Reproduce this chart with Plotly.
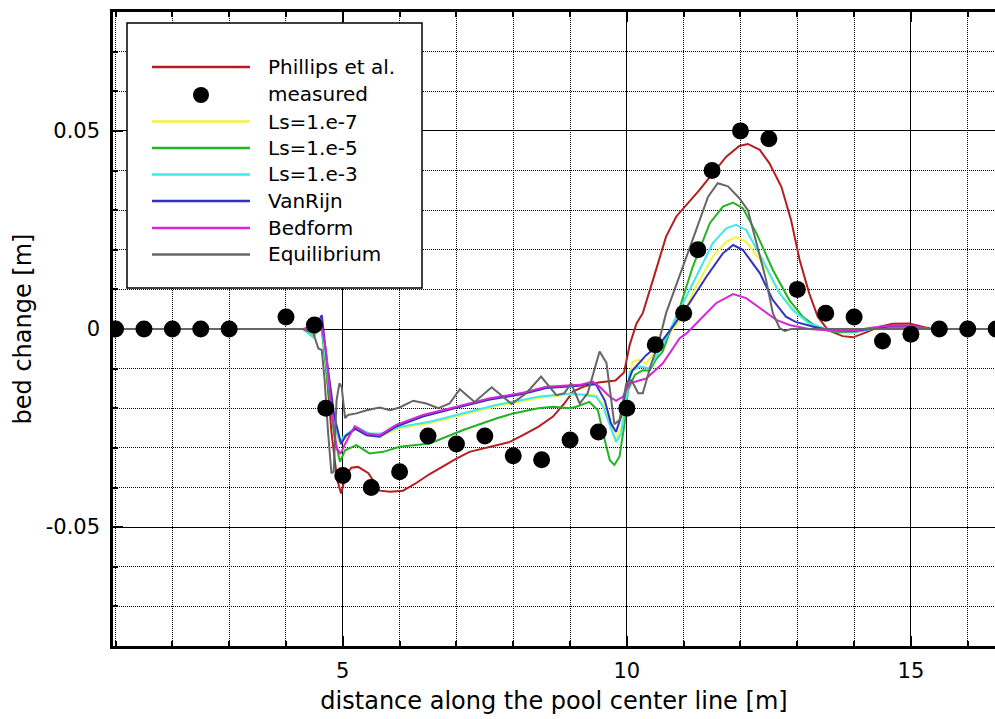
import plotly.graph_objects as go

# ---- measured bed change (Phillips et al. flume) ----
meas_x = [1.0, 1.5, 2.0, 2.5, 3.0, 4.0, 4.5, 4.7, 5.0, 5.5, 6.0, 6.5, 7.0, 7.5, 8.0, 8.5,
          9.0, 9.5, 10.0, 10.5, 11.0, 11.25, 11.5, 12.0, 12.5, 13.0, 13.5, 14.0, 14.5,
          15.0, 15.5, 16.0, 16.5]
meas_y = [0.0, 0.0, 0.0, 0.0, 0.0, 0.003, 0.001, -0.020, -0.037, -0.040, -0.036, -0.027,
          -0.029, -0.027, -0.032, -0.033, -0.028, -0.026, -0.020, -0.004, 0.004, 0.020,
          0.040, 0.050, 0.048, 0.010, 0.004, 0.003, -0.003, -0.0013, 0.0, 0.0, 0.0]

# ---- Phillips et al. simulation ----
phil_x = [1.0, 4.3, 4.5, 4.62, 4.7, 4.8, 4.9, 4.97, 5.05, 5.15, 5.27, 5.45, 5.65, 5.83,
          6.06, 6.3, 6.53, 6.76, 7.0, 7.23, 7.59, 7.94, 8.17, 8.44, 8.7, 8.9, 9.05, 9.23,
          9.5, 9.8, 9.95, 10.05, 10.17, 10.28, 10.46, 10.69, 10.87, 11.07, 11.28, 11.49,
          11.75, 11.98, 12.13, 12.34, 12.51, 12.72, 12.89, 13.04, 13.21, 13.36, 13.54,
          13.8, 13.98, 14.2, 14.45, 14.68, 14.97, 15.2, 15.38, 16.5]
phil_y = [0.0, 0.0, 0.0005, 0.002, -0.008, -0.026, -0.038, -0.0415, -0.037, -0.035,
          -0.0348, -0.0364, -0.0408, -0.0411, -0.0408, -0.0388, -0.0366, -0.0346, -0.0327,
          -0.031, -0.0297, -0.0285, -0.0268, -0.0247, -0.0221, -0.0188, -0.0158, -0.0146,
          -0.0135, -0.013, -0.011, -0.004, 0.0014, 0.004, 0.0124, 0.0233, 0.0284, 0.0317,
          0.0351, 0.0389, 0.0435, 0.0462, 0.0467, 0.0452, 0.0418, 0.0359, 0.0275, 0.0175,
          0.009, 0.0031, -0.0003, -0.0018, -0.0021, -0.0009, 0.0006, 0.0013, 0.0014,
          0.0006, 0.0, 0.0]

# ---- Ls = 1.e-7 ----
ls7_x = [1.0, 4.3, 4.48, 4.62, 4.72, 4.85, 4.95, 5.01, 5.24, 5.47, 5.71, 6.0, 6.53, 7.12,
         7.7, 8.44, 9.0, 9.29, 9.46, 9.58, 9.75, 9.81, 9.9, 9.99, 10.1, 10.2, 10.34, 10.63,
         10.9, 11.22, 11.51, 11.75, 11.92, 12.1, 12.39, 12.69, 12.92, 13.2, 13.6, 14.0,
         14.3, 14.6, 15.0, 15.3, 16.5]
ls7_y = [0.0, 0.0, -0.0015, 0.002, -0.01, -0.025, -0.029, -0.028, -0.025, -0.0268,
         -0.0268, -0.025, -0.0237, -0.0216, -0.0195, -0.0174, -0.0165, -0.0165, -0.0168,
         -0.019, -0.026, -0.0275, -0.025, -0.016, -0.0083, -0.0078, -0.0087, -0.0032,
         0.0015, 0.0107, 0.0183, 0.022, 0.0232, 0.022, 0.0166, 0.009, 0.0052, 0.0015,
         -0.0005, -0.0006, 0.0, 0.0006, 0.0006, 0.0, 0.0]

# ---- Ls = 1.e-5 ----
ls5_x = [1.0, 4.3, 4.48, 4.62, 4.72, 4.85, 4.95, 5.04, 5.24, 5.47, 5.71, 6.0, 6.53, 7.12,
         7.7, 8.0, 8.44, 8.7, 9.0, 9.11, 9.34, 9.49, 9.61, 9.7, 9.78, 9.87, 9.96, 10.02,
         10.14, 10.28, 10.4, 10.52, 10.63, 10.75, 10.9, 11.16, 11.46, 11.69, 11.87, 12.04,
         12.28, 12.57, 12.86, 13.1, 13.4, 13.7, 14.0, 14.3, 14.6, 15.0, 15.3, 16.5]
ls5_y = [0.0, 0.0, -0.002, 0.001, -0.012, -0.027, -0.0335, -0.0306, -0.0293, -0.0314,
         -0.031, -0.0297, -0.0289, -0.0255, -0.0226, -0.0213, -0.020, -0.0196, -0.0200,
         -0.0196, -0.0184, -0.0205, -0.028, -0.0331, -0.0343, -0.0322, -0.0238, -0.0154,
         -0.0116, -0.0104, -0.0105, -0.0075, -0.0057, -0.001, 0.004, 0.0157, 0.0267,
         0.0309, 0.0319, 0.0305, 0.0242, 0.0149, 0.0073, 0.003, 0.0, -0.0008, -0.0008,
         0.0, 0.0006, 0.0006, 0.0, 0.0]

# ---- Ls = 1.e-3 ----
ls3_x = [1.0, 4.3, 4.48, 4.62, 4.72, 4.85, 4.95, 5.01, 5.24, 5.47, 5.71, 6.0, 6.53, 7.12,
         7.7, 8.44, 9.0, 9.29, 9.46, 9.58, 9.75, 9.81, 9.9, 9.99, 10.05, 10.22, 10.4, 10.52,
         10.63, 10.87, 11.22, 11.51, 11.75, 11.92, 12.1, 12.39, 12.69, 12.92, 13.2, 13.6,
         14.0, 14.3, 14.6, 15.0, 15.3, 16.5]
ls3_y = [0.0, 0.0, -0.002, 0.0015, -0.01, -0.024, -0.0285, -0.0272, -0.0247, -0.0264,
         -0.0264, -0.0247, -0.0234, -0.0213, -0.0192, -0.0171, -0.0163, -0.0167, -0.0171,
         -0.0196, -0.0264, -0.0285, -0.0264, -0.018, -0.0108, -0.0095, -0.0099, -0.007,
         -0.004, 0.0031, 0.0132, 0.0216, 0.0254, 0.0263, 0.025, 0.0174, 0.009, 0.0048,
         0.0015, -0.0005, -0.0006, 0.0, 0.0006, 0.0006, 0.0, 0.0]

# ---- VanRijn ----
vr_x = [1.0, 4.3, 4.5, 4.63, 4.72, 4.85, 4.97, 5.05, 5.22, 5.42, 5.65, 5.94, 6.41, 7.0,
        7.59, 8.17, 8.58, 9.17, 9.29, 9.46, 9.61, 9.72, 9.81, 9.9, 9.99, 10.1, 10.34,
        10.52, 10.63, 10.81, 11.1, 11.4, 11.69, 11.87, 12.04, 12.34, 12.57, 12.8, 12.97,
        13.3, 13.6, 14.0, 14.3, 14.6, 15.0, 15.3, 16.5]
vr_y = [0.0, 0.0, 0.0, 0.0035, -0.008, -0.022, -0.029, -0.027, -0.0252, -0.0268, -0.0272,
        -0.0246, -0.0221, -0.0199, -0.0178, -0.0164, -0.0149, -0.0143, -0.0139, -0.0141,
        -0.018, -0.0238, -0.026, -0.022, -0.0146, -0.0104, -0.0066, -0.0045, -0.0028,
        0.0006, 0.0065, 0.0132, 0.0191, 0.0212, 0.020, 0.0141, 0.0073, 0.0031, 0.0018,
        0.0005, -0.0004, -0.0005, 0.0, 0.0006, 0.0006, 0.0, 0.0]

# ---- Bedform ----
bf_x = [1.0, 4.3, 4.45, 4.6, 4.7, 4.8, 4.89, 4.96, 5.04, 5.21, 5.42, 5.65, 5.94, 6.41,
        7.0, 7.59, 8.17, 8.58, 9.17, 9.4, 9.52, 9.7, 9.81, 9.93, 10.05, 10.34, 10.63,
        10.93, 11.05, 11.34, 11.57, 11.87, 12.1, 12.39, 12.63, 12.86, 13.2, 13.6, 14.0,
        14.3, 14.6, 15.0, 15.3, 16.5]
bf_y = [0.0, 0.0, 0.0003, 0.0027, -0.005, -0.020, -0.030, -0.0315, -0.029, -0.0245,
        -0.0264, -0.0268, -0.0242, -0.0217, -0.0196, -0.0175, -0.0161, -0.0146, -0.0141,
        -0.0133, -0.0146, -0.0171, -0.0181, -0.0171, -0.0137, -0.0125, -0.0087, -0.0023,
        -0.0011, 0.0031, 0.0065, 0.0088, 0.0078, 0.0048, 0.0023, 0.001, 0.0, -0.0004,
        -0.0004, 0.0003, 0.0008, 0.0008, 0.0, 0.0]

# ---- Equilibrium ----
eq_x = [1.0, 4.3, 4.48, 4.57, 4.63, 4.68, 4.74, 4.8, 4.84, 4.89, 4.94, 4.98, 5.04, 5.09,
        5.24, 5.42, 5.65, 5.83, 6.0, 6.24, 6.47, 6.68, 6.88, 7.06, 7.32, 7.62, 7.97, 8.23,
        8.49, 8.76, 8.9, 9.02, 9.17, 9.31, 9.52, 9.64, 9.78, 9.87, 9.99, 10.08, 10.2,
        10.28, 10.43, 10.55, 10.69, 10.85, 11.22, 11.43, 11.6, 11.78, 11.98, 12.13, 12.3,
        12.45, 12.57, 12.69, 12.78, 12.89, 16.5]
eq_y = [0.0, 0.0, -0.001, -0.0049, -0.0053, -0.0129, -0.026, -0.0364, -0.036, -0.018,
        -0.0137, -0.0146, -0.0225, -0.0217, -0.0213, -0.0205, -0.0198, -0.0205, -0.0198,
        -0.0181, -0.0188, -0.020, -0.0188, -0.0152, -0.0184, -0.0147, -0.0189, -0.0162,
        -0.012, -0.0167, -0.0162, -0.0137, -0.0188, -0.0162, -0.0057, -0.0085, -0.024,
        -0.023, -0.0137, -0.0129, -0.0162, -0.0162, -0.0087, -0.004, 0.004, 0.0105, 0.025,
        0.0334, 0.0368, 0.036, 0.033, 0.030, 0.0208, 0.0124, 0.004, 0.0002, -0.0005, 0.0,
        0.0]

labels = ["Phillips et al.", "measured", "Ls=1.e-7", "Ls=1.e-5", "Ls=1.e-3",
          "VanRijn", "Bedform", "Equilibrium"]

# axis tick values and their printed labels
x_ticks = [5, 10, 15]
x_tick_text = ["5", "10", "15"]
y_ticks = [-0.05, 0.0, 0.05]
y_tick_text = ["-0.05", "0", "0.05"]

FONT = "DejaVu Sans"
RED, YEL, GRN, CYA = "#b41e1e", "#f5f53c", "#22b422", "#3ee8ee"
BLU, MAG, GRY = "#3232c0", "#d726d7", "#666666"

W, H = 995, 719
ML, MR, MT, MB = 113, 0, 12, 73
PW, PH = W - ML - MR, H - MT - MB

fig = go.Figure()

series = [
    (phil_x, phil_y, RED, labels[0]),
    (ls7_x, ls7_y, YEL, labels[2]),
    (ls5_x, ls5_y, GRN, labels[3]),
    (ls3_x, ls3_y, CYA, labels[4]),
    (vr_x, vr_y, BLU, labels[5]),
    (bf_x, bf_y, MAG, labels[6]),
    (eq_x, eq_y, GRY, labels[7]),
]
for xs, ys, col, name in series:
    fig.add_trace(go.Scatter(x=xs, y=ys, mode="lines", name=name,
                             line=dict(color=col, width=2), showlegend=False))

fig.add_trace(go.Scatter(x=meas_x, y=meas_y, mode="markers", name=labels[1],
                         marker=dict(color="black", size=17), showlegend=False))


def px2paper(px, py):
    return (px - ML) / PW, (H - MB - py) / PH


# legend panel drawn in paper space
shapes = []
x0, y0 = px2paper(127, 23)
x1, y1 = px2paper(422, 288)
shapes.append(dict(type="rect", xref="paper", yref="paper", x0=x0, y0=y1, x1=x1, y1=y0,
                   fillcolor="white", line=dict(color="black", width=1.5), layer="above"))

row_y = [67, 94, 121.5, 148, 174.5, 201, 228, 254.5]
row_style = [RED, None, YEL, GRN, CYA, BLU, MAG, GRY]
annotations = []
for ry, col, lab in zip(row_y, row_style, labels):
    lx0, ly = px2paper(152, ry)
    lx1, _ = px2paper(250, ry)
    if col is None:
        cx, cy = px2paper(201, ry + 1)
        shapes.append(dict(type="circle", xref="paper", yref="paper",
                           xsizemode="pixel", ysizemode="pixel", xanchor=cx, yanchor=cy,
                           x0=-8, x1=8, y0=-8, y1=8, fillcolor="black",
                           line=dict(color="black", width=0), layer="above"))
    else:
        shapes.append(dict(type="line", xref="paper", yref="paper", x0=lx0, x1=lx1,
                           y0=ly, y1=ly, line=dict(color=col, width=2.5), layer="above"))
    tx, ty = px2paper(266, ry)
    annotations.append(dict(text=lab, xref="paper", yref="paper", x=tx, y=ty,
                            xanchor="left", yanchor="middle", showarrow=False,
                            font=dict(family=FONT, size=20, color="black")))

fig.update_layout(
    width=W, height=H,
    margin=dict(l=ML, r=MR, t=MT, b=MB),
    paper_bgcolor="white", plot_bgcolor="white",
    font=dict(family=FONT, color="black"),
    shapes=shapes, annotations=annotations,
    showlegend=False,
)

fig.update_xaxes(
    range=[0.955, 16.48], tickmode="array", tickvals=x_ticks, ticktext=x_tick_text,
    automargin=False,
    showgrid=True, gridcolor="black", gridwidth=1.3,
    minor=dict(dtick=1, tick0=0, showgrid=True, gridcolor="black", gridwidth=1,
               griddash="1px,1px", ticks="inside", ticklen=5, tickcolor="black"),
    ticks="inside", ticklen=10, tickwidth=1.5, tickcolor="black",
    showline=True, linecolor="black", linewidth=2.5, mirror="ticks",
    zeroline=False,
    tickfont=dict(family=FONT, size=21),
    ticklabelstandoff=4,
    title=dict(text="distance along the pool center line [m]",
               font=dict(family=FONT, size=24), standoff=11),
)
fig.update_yaxes(
    range=[-0.08, 0.08], tickmode="array", tickvals=y_ticks, ticktext=y_tick_text,
    automargin=False,
    showgrid=True, gridcolor="black", gridwidth=1.3,
    minor=dict(dtick=0.01, tick0=0, showgrid=True, gridcolor="black", gridwidth=1,
               griddash="1px,1px", ticks="inside", ticklen=5, tickcolor="black"),
    ticks="inside", ticklen=10, tickwidth=1.5, tickcolor="black",
    showline=True, linecolor="black", linewidth=2.5, mirror=False,
    zeroline=False,
    tickfont=dict(family=FONT, size=21),
    ticklabelstandoff=6,
    title=dict(text="bed change [m]", font=dict(family=FONT, size=24), standoff=8),
)

fig.write_html("out.html")
